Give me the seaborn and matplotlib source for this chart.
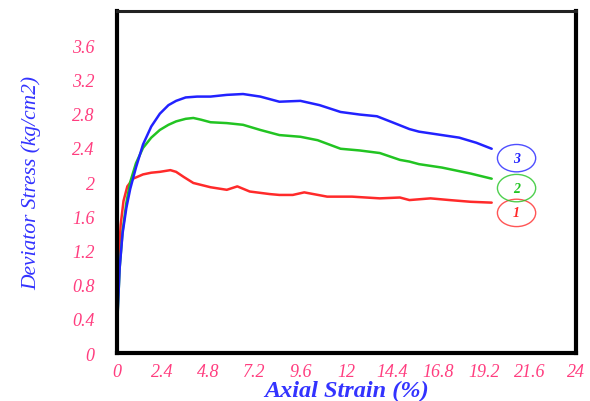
import numpy as np
import pandas as pd
import matplotlib
matplotlib.use("Agg")
import matplotlib.pyplot as plt
from matplotlib.patches import Ellipse
import seaborn as sns

# Curve 3 (blue)
strain_3 = [0, 0.05, 0.15, 0.3, 0.5, 0.7, 1.0, 1.37, 1.8, 2.25, 2.7, 3.1, 3.6, 4.2, 4.9, 5.75, 6.6,
            7.5, 8.5, 9.6, 10.6, 11.7, 12.7, 13.6, 14.4, 15.3, 15.8, 17.0, 17.9, 18.8, 19.6]
stress_3 = [0, 0.5, 1.0, 1.4, 1.7, 1.92, 2.17, 2.44, 2.65, 2.8, 2.9, 2.95, 2.99, 3.0, 3.0, 3.02, 3.03,
            3.0, 2.94, 2.95, 2.9, 2.82, 2.79, 2.77, 2.7, 2.62, 2.59, 2.55, 2.52, 2.46, 2.39]
# Curve 2 (green)
strain_2 = [0, 0.05, 0.15, 0.3, 0.5, 0.7, 1.0, 1.37, 1.8, 2.25, 2.7, 3.1, 3.6, 4.0, 4.4, 4.9, 5.75,
            6.6, 7.5, 8.5, 9.6, 10.5, 11.7, 12.7, 13.75, 14.8, 15.3, 15.8, 17.0, 18.5, 19.6]
stress_2 = [0, 0.5, 1.0, 1.42, 1.76, 2.0, 2.22, 2.4, 2.52, 2.61, 2.67, 2.71, 2.74, 2.75, 2.73, 2.7, 2.69,
            2.67, 2.61, 2.55, 2.53, 2.49, 2.39, 2.37, 2.34, 2.26, 2.24, 2.21, 2.17, 2.1, 2.04]
# Curve 1 (red)
strain_1 = [0, 0.03, 0.1, 0.2, 0.35, 0.55, 0.85, 1.37, 1.8, 2.25, 2.8, 3.1, 3.5, 4.0, 4.9, 5.75, 6.3,
            6.95, 8.0, 8.5, 9.2, 9.8, 11.0, 12.3, 13.75, 14.8, 15.3, 16.4, 17.4, 18.5, 19.6]
stress_1 = [0, 0.6, 1.1, 1.5, 1.78, 1.95, 2.04, 2.09, 2.11, 2.12, 2.14, 2.12, 2.06, 1.99, 1.94, 1.91, 1.95,
            1.89, 1.86, 1.85, 1.85, 1.88, 1.83, 1.83, 1.81, 1.82, 1.79, 1.81, 1.79, 1.77, 1.76]

curve_labels = ["1", "2", "3"]
label_y = [1.64, 1.93, 2.28]
x_ticks = [0, 2.4, 4.8, 7.2, 9.6, 12, 14.4, 16.8, 19.2, 21.6, 24]
x_tick_labels = ["0", "2.4", "4.8", "7.2", "9.6", "12", "14.4", "16.8", "19.2", "21.6", "24"]
y_ticks = [0, 0.4, 0.8, 1.2, 1.6, 2.0, 2.4, 2.8, 3.2, 3.6]
y_tick_labels = ["0", "0.4", "0.8", "1.2", "1.6", "2", "2.4", "2.8", "3.2", "3.6"]

colors = {"1": "#ff2a2a", "2": "#22c422", "3": "#2222ff"}

df = pd.concat([
    pd.DataFrame({"strain": strain_1, "stress": stress_1, "curve": "1"}),
    pd.DataFrame({"strain": strain_2, "stress": stress_2, "curve": "2"}),
    pd.DataFrame({"strain": strain_3, "stress": stress_3, "curve": "3"}),
])

sns.set_style("white")
fig = plt.figure(figsize=(5.9, 4.02), dpi=100)
ax = fig.add_axes([0.198, 0.119, 0.778, 0.851])

sns.lineplot(data=df, x="strain", y="stress", hue="curve", palette=colors,
             sort=False, estimator=None, linewidth=1.8, legend=False, ax=ax)
for ln in ax.lines:
    ln.set_solid_joinstyle("round")
    ln.set_solid_capstyle("round")

ax.set_xlim(0, 24)
ax.set_ylim(0, 4.0)
ax.set_xticks(x_ticks)
ax.set_xticklabels(x_tick_labels)
ax.set_yticks(y_ticks)
ax.set_yticklabels(y_tick_labels)

for lab in ax.get_xticklabels() + ax.get_yticklabels():
    lab.set_fontfamily("Liberation Serif")
    lab.set_fontstyle("italic")
    lab.set_fontsize(13)
    lab.set_color("#ff3d7f")

ax.tick_params(axis="y", direction="out", length=7, width=1, color="#bbbbbb", pad=9)
ax.tick_params(axis="x", direction="out", length=5, width=1, color="#bbbbbb", pad=2)

for side in ["left", "bottom", "right"]:
    ax.spines[side].set_linewidth(3)
    ax.spines[side].set_color("black")
    ax.spines[side].set_visible(True)
ax.spines["top"].set_linewidth(2.2)
ax.spines["top"].set_color("#222222")
ax.spines["top"].set_visible(True)

ax.set_xlabel("Axial Strain (%)", labelpad=0, family="Liberation Serif", style="italic",
              weight="bold", size=17.5, color="#3333ff")
ax.set_ylabel("Deviator Stress (kg/cm2)", labelpad=22, family="Liberation Serif", style="italic",
              weight="normal", size=15.5, color="#3333ff")

for lab, yv in zip(curve_labels, label_y):
    c = colors[lab]
    ax.add_patch(Ellipse((20.9, yv), width=2.0, height=0.32, fill=False,
                         edgecolor=c, linewidth=1.0, alpha=0.8))
    ax.text(20.9, yv, lab, ha="center", va="center", color=c,
            family="Liberation Serif", style="italic", weight="bold", size=10)

fig.savefig("out.png", dpi=100)
